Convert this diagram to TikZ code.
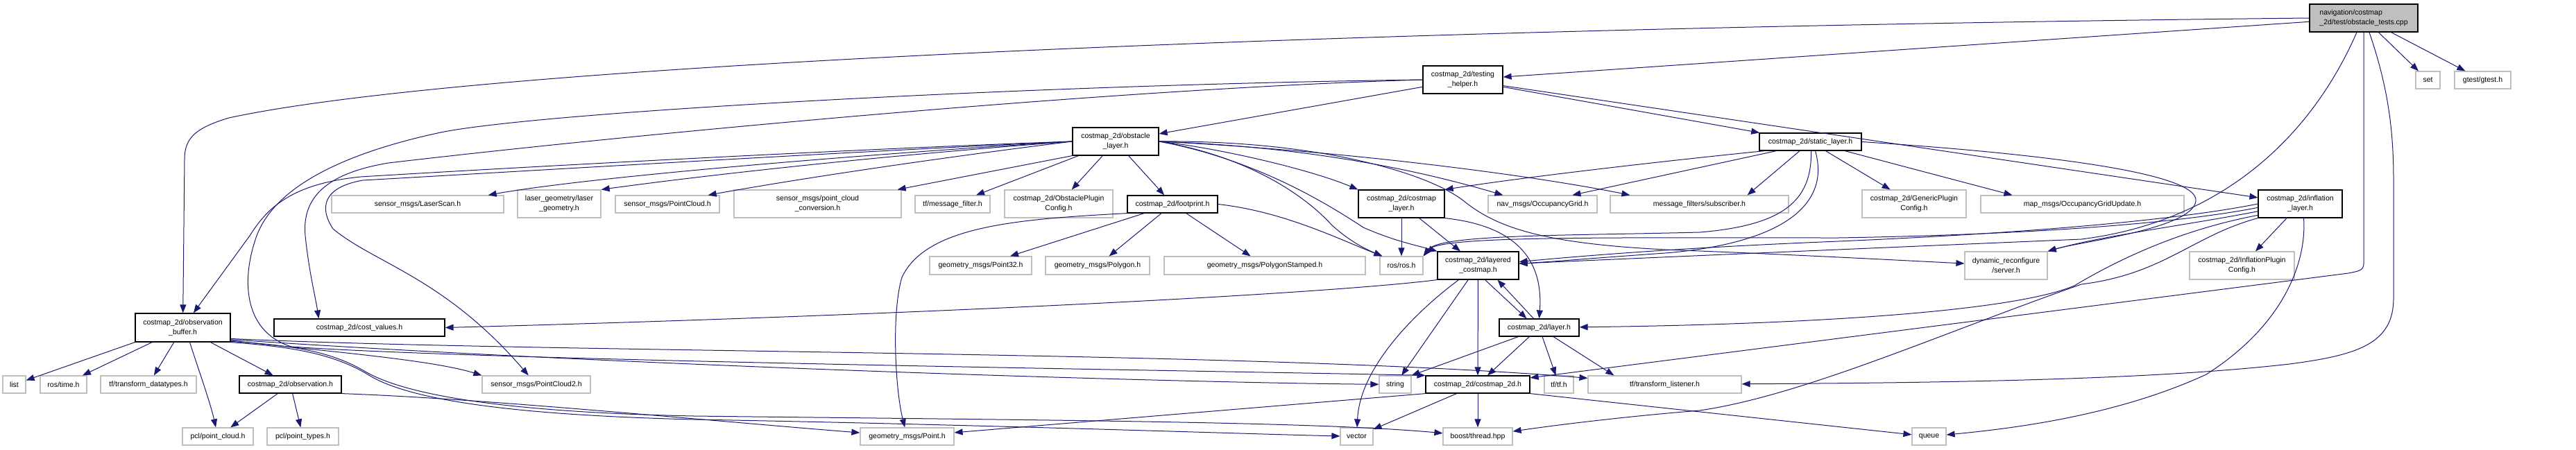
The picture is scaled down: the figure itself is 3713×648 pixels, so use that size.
\documentclass[tikz,border=0pt]{standalone}
\usepackage{fontspec}
\setmainfont{Liberation Sans}
\usetikzlibrary{arrows.meta}

\definecolor{edgeblue}{HTML}{191970}
\definecolor{boxgray}{HTML}{BFBFBF}

\tikzset{
  file/.style={draw=black,line width=1.2pt,fill=white,inner sep=0pt,align=center,
    font=\fontsize{10.5}{14}\selectfont},
  extfile/.style={file,draw=boxgray},
  rootfile/.style={file,fill=boxgray,align=left},
  sz/.style 2 args={minimum width=#1pt,minimum height=#2pt},
  inc/.style={draw=edgeblue,line width=1pt,-{Triangle[length=12pt,width=9pt]}},
}

\begin{document}
\begin{tikzpicture}[x=1pt,y=-1pt]
\useasboundingbox (0,0) rectangle (3713,648);

% the test file
\node[rootfile,sz={156}{40}] (root) at (3407,26) {navigation/costmap\\\_2d/test/obstacle\_tests.cpp};
\node[extfile,sz={35}{25}] (set) at (3499.5,115.5) {set};
\node[extfile,sz={81}{25}] (gtest) at (3578.5,115.5) {gtest/gtest.h};

% second and third row
\node[file,sz={115}{40}] (helper) at (2108.5,115) {costmap\_2d/testing\\\_helper.h};
\node[file,sz={124}{40}] (obstacle) at (1608,204) {costmap\_2d/obstacle\\\_layer.h};
\node[file,sz={147}{25}] (static) at (2609.5,204.5) {costmap\_2d/static\_layer.h};

% headers used by the layers
\node[extfile,sz={248}{25}] (laserscan) at (602,294.5) {sensor\_msgs/LaserScan.h};
\node[extfile,sz={120}{40}] (lasergeo) at (806,294) {laser\_geometry/laser\\\_geometry.h};
\node[extfile,sz={150}{25}] (pcloud) at (962,294.5) {sensor\_msgs/PointCloud.h};
\node[extfile,sz={241}{40}] (pcconv) at (1178.5,294) {sensor\_msgs/point\_cloud\\\_conversion.h};
\node[extfile,sz={108}{25}] (msgfilter) at (1373,294.5) {tf/message\_filter.h};
\node[extfile,sz={156}{40}] (obstcfg) at (1526,294) {costmap\_2d/ObstaclePlugin\\Config.h};
\node[file,sz={130}{25}] (footprint) at (1690,294.5) {costmap\_2d/footprint.h};
\node[file,sz={124}{40}] (cmlayer) at (2020,294) {costmap\_2d/costmap\\\_layer.h};
\node[extfile,sz={157}{25}] (occgrid) at (2223.5,294.5) {nav\_msgs/OccupancyGrid.h};
\node[extfile,sz={257}{25}] (mfsub) at (2449.5,294.5) {message\_filters/subscriber.h};
\node[extfile,sz={150}{40}] (gencfg) at (2759,294) {costmap\_2d/GenericPlugin\\Config.h};
\node[extfile,sz={293}{25}] (gridupd) at (3001.5,294.5) {map\_msgs/OccupancyGridUpdate.h};
\node[file,sz={121}{40}] (inflation) at (3315.5,294) {costmap\_2d/inflation\\\_layer.h};

% geometry row
\node[extfile,sz={147}{26}] (point32) at (1413.5,383) {geometry\_msgs/Point32.h};
\node[extfile,sz={150}{26}] (polygon) at (1582,383) {geometry\_msgs/Polygon.h};
\node[extfile,sz={290}{26}] (polystamped) at (1823,383) {geometry\_msgs/PolygonStamped.h};
\node[extfile,sz={62}{26}] (rosros) at (2020,383) {ros/ros.h};
\node[file,sz={117}{40}] (layered) at (2130.5,383) {costmap\_2d/layered\\\_costmap.h};
\node[extfile,sz={119}{40}] (dynserver) at (2891.5,383) {dynamic\_reconfigure\\/server.h};
\node[extfile,sz={151}{40}] (inflcfg) at (3231.5,383) {costmap\_2d/InflationPlugin\\Config.h};

% buffer row
\node[file,sz={137}{41}] (obsbuf) at (263.5,472.5) {costmap\_2d/observation\\\_buffer.h};
\node[file,sz={246}{25}] (costvalues) at (518,472.5) {costmap\_2d/cost\_values.h};
\node[file,sz={115}{25}] (layer) at (2218.5,472.5) {costmap\_2d/layer.h};

% lower rows
\node[extfile,sz={33}{25}] (list) at (20.5,554.5) {list};
\node[extfile,sz={67}{25}] (rostime) at (91.5,554.5) {ros/time.h};
\node[extfile,sz={138}{25}] (tfdatatypes) at (214,554.5) {tf/transform\_datatypes.h};
\node[file,sz={147}{25}] (observation) at (418.5,554.5) {costmap\_2d/observation.h};
\node[extfile,sz={156}{25}] (pcloud2) at (773,554.5) {sensor\_msgs/PointCloud2.h};
\node[extfile,sz={46}{25}] (string) at (2011,554.5) {string};
\node[file,sz={150}{25}] (costmap) at (2130,554.5) {costmap\_2d/costmap\_2d.h};
\node[extfile,sz={42}{25}] (tftf) at (2247,554.5) {tf/tf.h};
\node[extfile,sz={221}{25}] (tflistener) at (2399.5,554.5) {tf/transform\_listener.h};
\node[extfile,sz={102}{25}] (pclcloud) at (314,629.5) {pcl/point\_cloud.h};
\node[extfile,sz={103}{25}] (pcltypes) at (436.5,629.5) {pcl/point\_types.h};
\node[extfile,sz={135}{25}] (point) at (1307.5,629.5) {geometry\_msgs/Point.h};
\node[extfile,sz={47}{25}] (vector) at (1955.5,629.5) {vector};
\node[extfile,sz={100}{25}] (boost) at (2130,629.5) {boost/thread.hpp};
\node[extfile,sz={49}{25}] (queue) at (2780.5,629.5) {queue};

% includes of the test file
\draw[inc] (root) -- (helper);
\draw[inc] (root.west) .. controls (2000,40) and (700,90) .. (330,170)
  .. controls (280,185) and (266,200) .. (266,230) -- (obsbuf);
\draw[inc] ([xshift=-10pt]root.south) .. controls (3330,200) and (3200,320) .. (3000,345)
  .. controls (2600,362) and (2300,375) .. (layered);
\draw[inc] (root.south) -- (3407,380) .. controls (3407,390) and (3400,391) .. (3385,394) -- (costmap);
\draw[inc] ([xshift=8pt]root.south) .. controls (3440,120) and (3450,180) .. (3450,260) -- (3450,430)
  .. controls (3450,495) and (3400,512) .. (3300,525) .. controls (3100,548) and (2800,552) .. (tflistener);
\draw[inc] (root) -- (set);
\draw[inc] (root) -- (gtest);

% testing_helper.h
\draw[inc] (helper) -- (obstacle);
\draw[inc] (helper) -- (static);
\draw[inc] (helper) -- (inflation);
\draw[inc] (helper.west) .. controls (1600,128) and (900,195) .. (560,235)
  .. controls (470,250) and (435,285) .. (440,340) .. controls (445,390) and (455,430) .. ([xshift=65pt]costvalues.north west);
\draw[inc] (helper.west) .. controls (1500,122) and (800,160) .. (640,190)
  .. controls (520,215) and (400,260) .. (370,340) .. controls (345,410) and (355,480) .. (420,500)
  .. controls (700,520) and (1700,534) .. (costmap.north west);

% obstacle_layer.h
\draw[inc] (obstacle.west) .. controls (1200,216) and (700,244) .. (520,255)
  .. controls (420,265) and (385,300) .. (360,340) -- (obsbuf);
\draw[inc] (obstacle.west) .. controls (1200,220) and (700,250) .. (523,260)
  .. controls (465,270) and (460,300) .. (480,330) .. controls (540,380) and (640,400) .. (pcloud2);
\draw[inc] (obstacle.west) .. controls (1250,222) and (850,255) .. ([xshift=-23pt]laserscan.north east);
\draw[inc] (obstacle.west) .. controls (1250,226) and (1000,255) .. (lasergeo.north east);
\draw[inc] (obstacle.west) .. controls (1350,228) and (1150,258) .. ([xshift=-17pt]pcloud.north east);
\draw[inc] (obstacle.south west) -- ([xshift=-6pt]pcconv.north east);
\draw[inc] (obstacle) -- (msgfilter);
\draw[inc] (obstacle) -- (obstcfg);
\draw[inc] (obstacle) -- (footprint);
\draw[inc] (obstacle.east) .. controls (1760,214) and (1890,245) .. (cmlayer.north west);
\draw[inc] (obstacle.east) .. controls (1900,212) and (2060,250) .. ([xshift=22pt]occgrid.north west);
\draw[inc] (obstacle.east) .. controls (1950,218) and (2220,255) .. ([xshift=29pt]mfsub.north west);
\draw[inc] (obstacle.east) .. controls (1900,202) and (2060,250) .. (2110,290)
  .. controls (2160,330) and (2230,355) .. (2450,362) .. controls (2600,368) and (2750,376) .. (dynserver);
\draw[inc] (obstacle.east) .. controls (1780,222) and (1870,270) .. (1920,325)
  .. controls (1950,352) and (1975,362) .. ([xshift=4pt]rosros.north west);
\draw[inc] (obstacle.east) .. controls (1800,228) and (1900,285) .. (1965,328)
  .. controls (2010,348) and (2050,356) .. (layered.north west);

% footprint.h
\draw[inc] (footprint) -- (point32);
\draw[inc] (footprint) -- (polygon);
\draw[inc] (footprint) -- (polystamped);
\draw[inc] (footprint.east) .. controls (1850,305) and (1930,345) .. ([xshift=4pt]rosros.north west);
\draw[inc] (footprint.south west) .. controls (1470,316) and (1335,325) .. (1300,400)
  .. controls (1285,450) and (1290,560) .. (point);

% costmap_layer.h
\draw[inc] (cmlayer) -- (rosros);
\draw[inc] (cmlayer) -- (layered);
\draw[inc] (cmlayer.south east) .. controls (2180,325) and (2225,370) .. (layer.north);

% layered_costmap.h
\draw[inc] (layered.south west) .. controls (1900,425) and (1300,455) .. (costvalues.east);
\draw[inc] ([xshift=10pt]layered.south) -- ([xshift=-18pt]layer.north);
\draw[inc] (layered) -- (costmap);
\draw[inc] (layered) -- (string);
\draw[inc] ([xshift=-28pt]layered.south) .. controls (2040,450) and (1960,530) .. (vector);

% layer.h
\draw[inc] ([xshift=-8pt]layer.north) -- ([xshift=28pt]layered.south);
\draw[inc] (layer) -- (costmap);
\draw[inc] ([xshift=-30pt]layer.south) -- (string.north east);
\draw[inc] (layer) -- (tftf);
\draw[inc] (layer) -- ([xshift=38pt]tflistener.north west);

% costmap_2d.h
\draw[inc] (costmap) -- (vector);
\draw[inc] (costmap) -- (boost);
\draw[inc] (costmap.south east) -- (queue);
\draw[inc] (costmap.south west) -- (point);

% observation_buffer.h
\draw[inc] (obsbuf.south west) -- (list);
\draw[inc] (obsbuf) -- (rostime);
\draw[inc] (obsbuf) -- (tfdatatypes);
\draw[inc] ([xshift=10pt]obsbuf.south) .. controls (285,530) and (303,580) .. (pclcloud);
\draw[inc] (obsbuf) -- (observation);
\draw[inc] (obsbuf.-15) .. controls (450,505) and (620,518) .. (pcloud2.north west);
\draw[inc] (obsbuf.-13) .. controls (800,510) and (1800,505) .. (tflistener);
\draw[inc] (obsbuf.-14) .. controls (900,528) and (1700,552) .. (string);
\draw[inc] (obsbuf.south east) .. controls (420,500) and (480,510) .. (530,540)
  .. controls (600,585) and (800,600) .. (1000,605) .. controls (1400,612) and (1800,626) .. (vector);
\draw[inc] (obsbuf.-16) .. controls (420,498) and (475,506) .. (525,535)
  .. controls (600,580) and (800,596) .. (1000,600) .. controls (1500,606) and (1900,608) .. (boost);

% observation.h
\draw[inc] (observation) -- (pclcloud);
\draw[inc] (observation) -- (pcltypes);
\draw[inc] (observation.south east) .. controls (700,575) and (1000,605) .. (point);

% static_layer.h
\draw[inc] (static) -- ([xshift=-60pt]mfsub.north east);
\draw[inc] (static) -- (gencfg);
\draw[inc] (static) -- ([xshift=-101pt]gridupd.north);
\draw[inc] ([xshift=25pt]static.south west) -- ([xshift=122pt]occgrid.north west);
\draw[inc] ([xshift=8pt]static.south west) .. controls (2400,232) and (2200,255) .. (cmlayer.north east);
\draw[inc] ([xshift=1pt]static.south) .. controls (2612,290) and (2570,325) .. (2450,335)
  .. controls (2250,340) and (2075,338) .. (rosros.north east);
\draw[inc] ([xshift=7pt]static.south) .. controls (2640,300) and (2560,352) .. (2400,365)
  .. controls (2300,372) and (2230,378) .. (layered);
\draw[inc] (static.east) .. controls (2950,222) and (3170,250) .. (3165,290)
  .. controls (3160,330) and (3000,348) .. (dynserver.north east);

% inflation_layer.h
\draw[inc] (inflation) -- (inflcfg);
\draw[inc] ([xshift=5pt]inflation.south) .. controls (3325,380) and (3290,470) .. (3180,540)
  .. controls (3050,600) and (2900,618) .. (queue);
\draw[inc] (inflation.south west) .. controls (3160,340) and (3120,395) .. (3000,410)
  .. controls (2800,480) and (2600,570) .. (2450,592) .. controls (2350,600) and (2250,612) .. (boost);
\draw[inc] (inflation.195) .. controls (3150,330) and (3060,370) .. (2990,412)
  .. controls (2900,450) and (2600,468) .. (layer);
\draw[inc] (inflation.180) .. controls (3150,315) and (2950,335) .. (2650,348)
  .. controls (2400,358) and (2250,372) .. (layered);
\draw[inc] (inflation.185) .. controls (3150,320) and (2950,338) .. (2650,343)
  .. controls (2300,343) and (2075,340) .. (rosros.north east);
\draw[inc] (inflation.190) .. controls (3150,325) and (3030,340) .. (dynserver.north east);

\end{tikzpicture}
\end{document}
